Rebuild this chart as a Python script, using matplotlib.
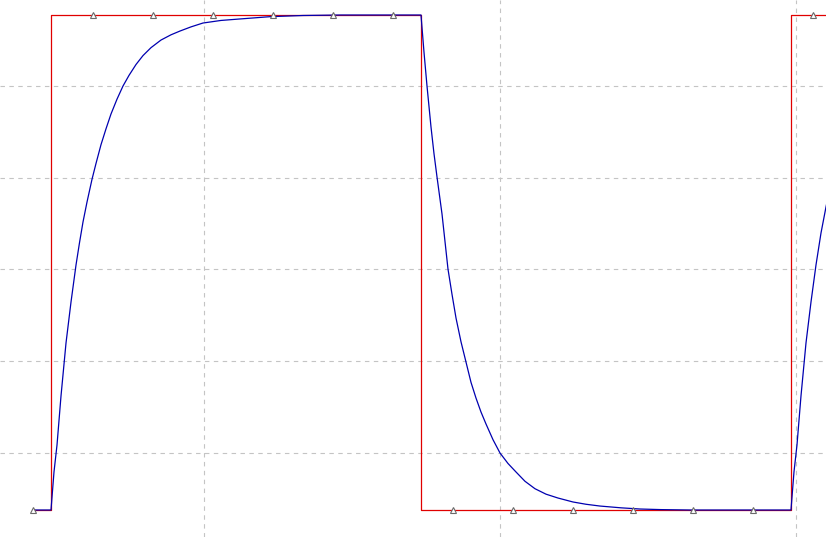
import numpy as np
import matplotlib
matplotlib.use("Agg")
import matplotlib.pyplot as plt

# square-wave input (ms, V), step style
vin_t = [0.4223, 0.4831, 1.7331, 2.9831, 3.20]
vin_v = [0.0, 5.0, 0.0, 5.0, 5.0]

# RC output (ms, V)
vout_t = [0.4223, 0.4831, 0.4932, 0.5034, 0.5169, 0.5338, 0.5507, 0.5676,
          0.5794, 0.5912, 0.6047, 0.6216, 0.6351, 0.6520, 0.6689, 0.6858,
          0.7061, 0.7264, 0.7466, 0.7703, 0.7939, 0.8209, 0.8547, 0.8885,
          0.9189, 0.9561, 0.9966, 1.0574, 1.1216, 1.2230, 1.3345, 1.4628,
          1.7331,
          1.7432, 1.7534, 1.7669, 1.7770, 1.7872, 1.8041, 1.8243, 1.8378,
          1.8514, 1.8682, 1.8851, 1.9020, 1.9189, 1.9358, 1.9527, 1.9764,
          2.0000, 2.0270, 2.0541, 2.0845, 2.1182, 2.1554, 2.1959, 2.2466,
          2.2905, 2.3378, 2.4088, 2.4730, 2.5439, 2.6419, 2.9831,
          2.9932, 3.0034, 3.0169, 3.0338, 3.0507, 3.0676, 3.0845, 3.1014,
          3.1182]
vout_v = [0.0, 0.0, 0.384, 0.657, 1.152, 1.687, 2.101, 2.475,
          2.700, 2.909, 3.110, 3.340, 3.500, 3.690, 3.850, 4.000,
          4.150, 4.283, 4.390, 4.500, 4.590, 4.670, 4.747, 4.800,
          4.838, 4.880, 4.919, 4.945, 4.960, 4.983, 4.995, 5.0,
          5.0,
          4.626, 4.283, 3.869, 3.600, 3.364, 2.990, 2.434, 2.180,
          1.939, 1.700, 1.495, 1.290, 1.131, 0.990, 0.869, 0.710,
          0.576, 0.470, 0.384, 0.290, 0.215, 0.160, 0.121, 0.081,
          0.058, 0.040, 0.022, 0.010, 0.004, 0.0, 0.0,
          0.384, 0.657, 1.152, 1.687, 2.101, 2.475, 2.798, 3.061,
          3.300]

# sample markers on the input trace
mark_t = [0.4223, 0.6250, 0.8277, 1.0304, 1.2331, 1.4358, 1.6385,
          1.8412, 2.0439, 2.2466, 2.4493, 2.6520, 2.8547, 3.0574]
mark_v = [0.0, 5.0, 5.0, 5.0, 5.0, 5.0, 5.0,
          0.0, 0.0, 0.0, 0.0, 0.0, 0.0, 5.0]

fig = plt.figure(figsize=(8.26, 5.37), dpi=100)
ax = fig.add_axes([0, 0, 1, 1])

ax.step(vin_t, vin_v, where='post', color='#e00000', lw=0.9, zorder=2)
ax.plot(vout_t, vout_v, color='#0000b0', lw=0.9, zorder=3)
ax.plot(mark_t, mark_v, ls='none', marker='^', ms=5, mfc='white',
        mec='#6a6a6a', mew=0.8, zorder=4)

ax.set_xlim(0.3108, 3.1014)
ax.set_ylim(-0.2727, 5.1515)
ax.set_xticks([1, 2, 3])
ax.set_yticks(0.5758 + 0.9268 * np.arange(5))
ax.grid(True, color='#c4c4c4', ls=(0, (4, 4)), lw=0.8)
ax.tick_params(length=0, labelbottom=False, labelleft=False)
for s in ax.spines.values():
    s.set_visible(False)

fig.savefig("out.png", dpi=100)
